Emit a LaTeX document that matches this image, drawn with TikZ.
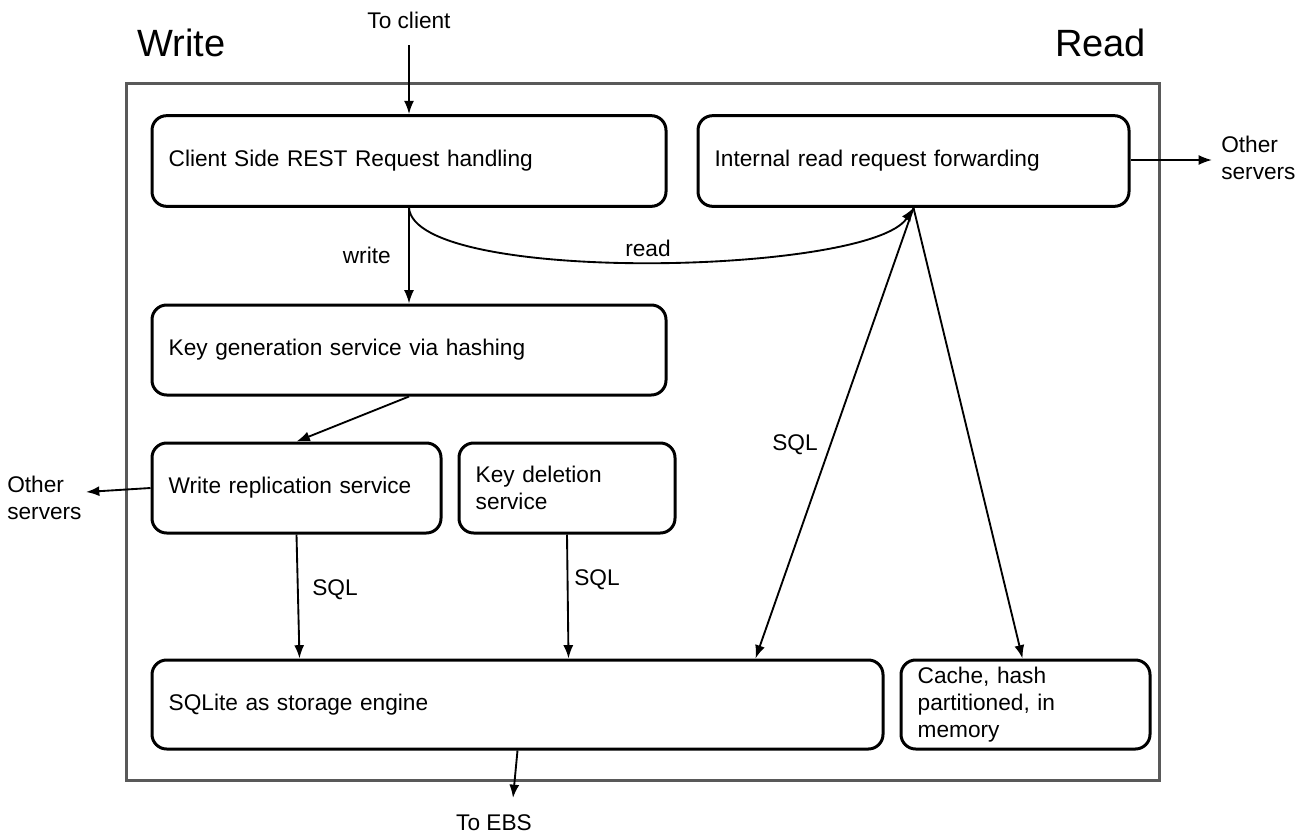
\documentclass[tikz,border=0pt]{standalone}
\usepackage{fontspec}
\setmainfont{Liberation Sans}
\usetikzlibrary{arrows.meta,calc}
\begin{document}
\begin{tikzpicture}[x=0.75pt,y=-0.75pt,
  box/.style={draw=black, line width=2.25pt, rounded corners=11pt, inner xsep=12.5pt, inner ysep=0pt,
    minimum height=68pt, align=left, font=\fontsize{17}{20.5}\selectfont},
  arr/.style={line width=1.4pt, -{Latex[length=10pt,width=7.5pt]}},
  lbl/.style={font=\fontsize{17}{20.5}\selectfont, inner sep=0pt},
  title/.style={font=\fontsize{28.5}{32}\selectfont, inner sep=0pt},
  frame/.style={draw=black!65, line width=2.25pt}]
\useasboundingbox (0,0) rectangle (1310,835);
\draw[frame] (126,83) rectangle (1159,780);

\node[title, anchor=base west] (wt) at (137,56) {Write};
\node[title, anchor=base west] (rt) at (1055,56) {Read};

\node[box, minimum width=385.5pt, text width=360.5pt] (client) at (409,161) {Client Side REST Request handling};
\node[box, minimum width=323.25pt, text width=298.25pt] (internal) at (913.5,161) {Internal read request forwarding};
\node[box, minimum width=385.5pt, minimum height=67.5pt, text width=360.5pt] (keygen) at (409,350) {Key generation service via hashing};
\node[box, minimum width=216.75pt, minimum height=67.5pt, text width=191.75pt] (writerep) at (296.5,488) {Write replication service};
\node[box, minimum width=162pt, minimum height=67.5pt, text width=137pt] (keydel) at (567,488) {Key deletion\\service};
\node[box, minimum width=548.25pt, minimum height=66.75pt, text width=523.25pt] (sqlite) at (517.5,704.5) {SQLite as storage engine};
\node[box, minimum width=186.75pt, minimum height=66.75pt, text width=161.75pt] (cache) at (1025.5,704.5) {Cache, hash\\partitioned, in\\memory};

% external labels
\node[lbl, anchor=base] (toclient) at (409,28) {To client};
\coordinate (tc) at (409,45);
\node[lbl, anchor=west, align=left] (osr) at (1221,158) {Other\\servers};
\coordinate (osrpt) at (1212,160);
\node[lbl, anchor=west, align=left] (osl) at (7,498) {Other\\servers};
\coordinate (oslpt) at (86,492);
\node[lbl] (toebs) at (494,823) {To EBS};
\coordinate (ebspt) at (513,798);

% connectors
\draw[arr] (tc) -- (client.north);
\draw[arr] (internal.east |- osrpt) -- (osrpt);
\draw[arr] (client.south) -- node[lbl, left, xshift=-13pt] (wl) {write} (keygen.north);
\draw[arr] (client.south) .. controls (415,285) and (870,275) .. (internal.south);
\node[lbl] (rl) at (648,248) {read};
\draw[arr] (keygen.south) -- (writerep.north);
\draw[arr] (writerep.west) -- (oslpt);
\draw[arr] (writerep.south) -- ($(sqlite.north west)+(149,0)$);
\node[lbl] (sql1) at (335,590) {SQL};
\draw[arr] (keydel.south) -- ($(sqlite.north west)+(418,0)$);
\node[lbl] (sql2) at (597,580) {SQL};
\draw[arr] (internal.south) -- ($(sqlite.north west)+(605,0)$);
\node[lbl] (sql3) at (795,445) {SQL};
\draw[arr] (internal.south) -- ($(cache.north)+(-3,0)$);
\draw[arr] (sqlite.south) -- (ebspt);
\end{tikzpicture}
\end{document}
